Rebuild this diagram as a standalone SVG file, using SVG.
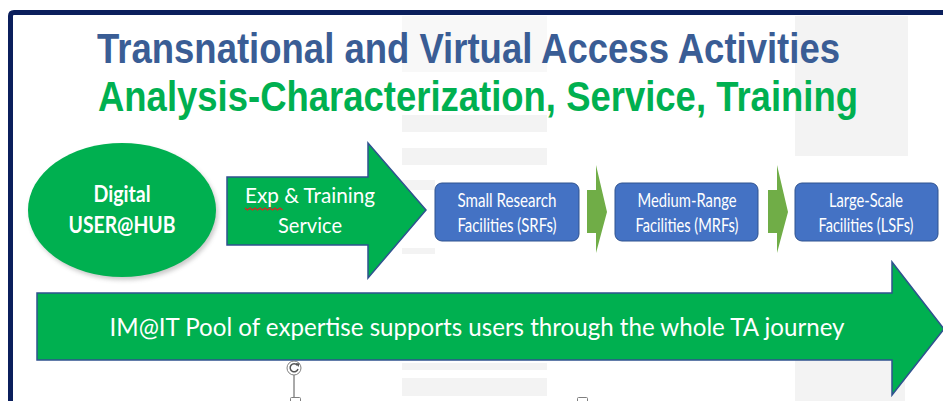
<svg xmlns="http://www.w3.org/2000/svg" width="943" height="401" viewBox="0 0 943 401">
  <defs>
    <style>
      .title { font-family: "Liberation Sans", Arial, sans-serif; font-weight: bold; font-size: 42px; }
      .t1 { fill: #3a5d95; }
      .t2 { fill: #00b050; }
      .lbl { font-family: Lato, "Open Sans", sans-serif; fill: #ffffff; text-anchor: middle; }
      .boxlbl { font-family: Lato, "Open Sans", sans-serif; fill: #ffffff; text-anchor: middle; font-size: 19.5px; }
      .green { fill: #00b050; stroke: #2f528f; stroke-width: 1.5; }
      .box { fill: #4472c4; stroke: #2f528f; stroke-width: 1; }
      .step { fill: #70ad47; }
      .ghost { fill: #f3f3f3; }
      .handle { fill: #ffffff; stroke: #7f7f7f; stroke-width: 1; }
    </style>
    <filter id="soft" x="-20%" y="-20%" width="140%" height="140%">
      <feGaussianBlur stdDeviation="2"/>
    </filter>
  </defs>

  <rect width="943" height="401" fill="#ffffff"/>

  <!-- faint background bands -->
  <g id="background">
    <rect class="ghost" x="402" y="16" width="145" height="56" opacity="0.6"/>
    <rect class="ghost" x="402" y="115" width="145" height="17"/>
    <rect class="ghost" x="402" y="148" width="145" height="17"/>
    <rect class="ghost" x="402" y="180" width="33" height="10"/>
    <rect class="ghost" x="402" y="248" width="33" height="6"/>
    <rect class="ghost" x="402" y="363" width="145" height="7"/>
    <rect class="ghost" x="402" y="378" width="145" height="18"/>
    <rect class="ghost" x="795" y="16" width="113" height="140"/>
    <rect class="ghost" x="795" y="360" width="110" height="41"/>
  </g>

  <!-- frame -->
  <g id="frame">
    <path d="M10.5 401 V16 Q10.5 12.5 14 12.5 H943" fill="none" stroke="#0b1f5c" stroke-width="5"/>
  </g>

  <!-- headings (condensed bold) -->
  <g id="title">
    <text class="title t1" x="97" y="63" textLength="743" lengthAdjust="spacingAndGlyphs">Transnational and Virtual Access Activities</text>
    <text class="title t2" x="98" y="111" textLength="760" lengthAdjust="spacingAndGlyphs">Analysis-Characterization, Service, Training</text>
  </g>

  <!-- hub ellipse -->
  <g id="hub">
    <ellipse cx="124" cy="213" rx="94" ry="67" fill="#8a8a8a" opacity="0.45" filter="url(#soft)"/>
    <ellipse cx="122" cy="210" rx="94" ry="67" fill="#00b050"/>
    <text class="lbl" x="122" y="202" font-size="22" font-weight="bold" textLength="57" lengthAdjust="spacingAndGlyphs">Digital</text>
    <text class="lbl" x="122" y="233" font-size="22" font-weight="bold" textLength="107" lengthAdjust="spacingAndGlyphs">USER@HUB</text>
  </g>

  <!-- service arrow -->
  <g id="service">
    <polygon class="green" points="227,177 368,177 368,143 426,210 368,278 368,245 227,245"/>
    <text class="lbl" x="310" y="203" font-size="22" textLength="130" lengthAdjust="spacingAndGlyphs">Exp &amp; Training</text>
    <text class="lbl" x="310" y="233" font-size="22" textLength="64" lengthAdjust="spacingAndGlyphs">Service</text>
    <path d="M245 208 l2.5 2 l2.5 -2 l2.5 2 l2.5 -2 l2.5 2 l2.5 -2 l2.5 2 l2.5 -2 l2.5 2 l2.5 -2 l2.5 2 l2.5 -2 l2.5 2 l2.5 -2 l2.5 2" fill="none" stroke="#e02020" stroke-width="1.2"/>
  </g>

  <!-- facilities -->
  <g id="srf">
    <rect class="box" x="435" y="183" width="144" height="58" rx="7"/>
    <text class="boxlbl" x="507" y="207" textLength="99" lengthAdjust="spacingAndGlyphs">Small Research</text>
    <text class="boxlbl" x="507" y="232" textLength="99" lengthAdjust="spacingAndGlyphs">Facilities (SRFs)</text>
  </g>
  <g id="mrf">
    <rect class="box" x="615" y="183" width="143" height="58" rx="7"/>
    <text class="boxlbl" x="687" y="207" textLength="99" lengthAdjust="spacingAndGlyphs">Medium-Range</text>
    <text class="boxlbl" x="687" y="232" textLength="103" lengthAdjust="spacingAndGlyphs">Facilities (MRFs)</text>
  </g>
  <g id="lsf">
    <rect class="box" x="795" y="183" width="143" height="58" rx="7"/>
    <text class="boxlbl" x="866" y="207" textLength="74" lengthAdjust="spacingAndGlyphs">Large-Scale</text>
    <text class="boxlbl" x="866" y="232" textLength="95" lengthAdjust="spacingAndGlyphs">Facilities (LSFs)</text>
  </g>

  <!-- connectors between facilities -->
  <g id="connectors">
    <polygon class="step" points="587,190 596,190 596,165 607,212 596,253 596,233 587,233"/>
    <polygon class="step" points="768,190 777,190 777,165 788,212 777,253 777,233 768,233"/>
  </g>

  <!-- expertise arrow -->
  <g id="expertise">
    <polygon class="green" points="37,293 892,293 892,262 944,329 892,395 892,360 37,360"/>
    <text class="lbl" x="477" y="336" font-size="25" textLength="735" lengthAdjust="spacingAndGlyphs">IM@IT Pool of expertise supports users through the whole TA journey</text>
  </g>

  <!-- selection handles -->
  <g id="handles">
    <line x1="294" y1="375" x2="294" y2="398" stroke="#555555" stroke-width="1"/>
    <circle class="handle" cx="294" cy="368" r="7"/>
    <path d="M297.2 365.2 A4 4 0 1 0 298 369" fill="none" stroke="#555555" stroke-width="1.5"/>
    <polygon points="295.5,363 299.5,363.5 298.5,367" fill="#555555"/>
    <rect class="handle" x="290.5" y="397.5" width="10" height="8" rx="1"/>
    <rect class="handle" x="577.5" y="397.5" width="10" height="8" rx="1"/>
  </g>
</svg>
